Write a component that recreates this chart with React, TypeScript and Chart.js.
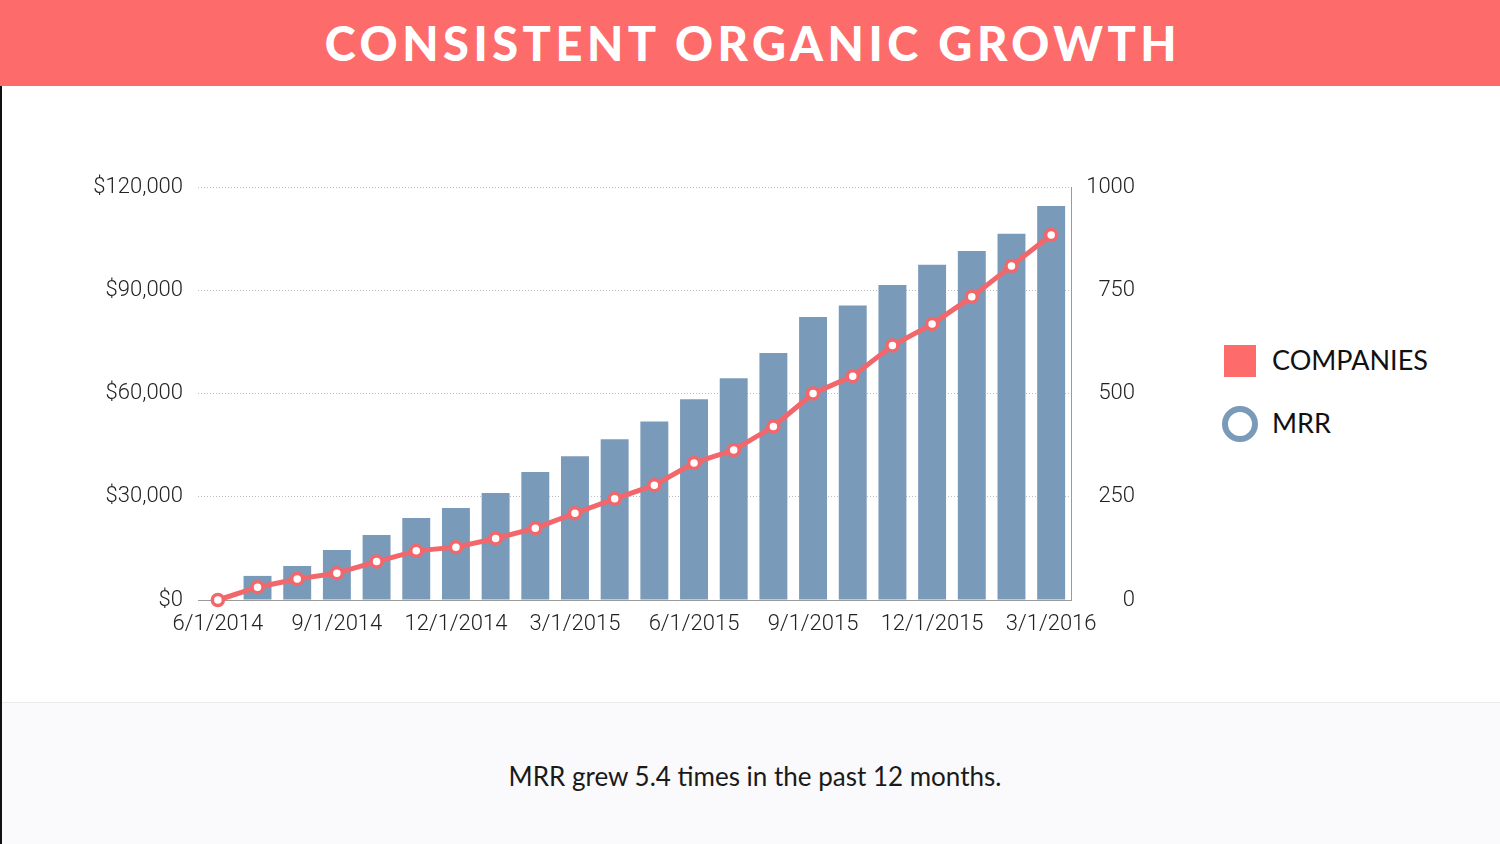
import React, { useEffect, useRef } from 'react';
import { Chart, registerables } from 'chart.js';

Chart.register(...registerables);

const months = [
  '6/1/2014', '7/1/2014', '8/1/2014', '9/1/2014', '10/1/2014', '11/1/2014',
  '12/1/2014', '1/1/2015', '2/1/2015', '3/1/2015', '4/1/2015', '5/1/2015',
  '6/1/2015', '7/1/2015', '8/1/2015', '9/1/2015', '10/1/2015', '11/1/2015',
  '12/1/2015', '1/1/2016', '2/1/2016', '3/1/2016',
];

// monthly recurring revenue in $ (bars, left axis)
const mrr = [
  null, 7000, 9900, 14500, 18900, 23800, 26700, 31100, 37200, 41800, 46700,
  51900, 58300, 64400, 71800, 82200, 85600, 91500, 97400, 101400, 106400, 114500,
];

// number of companies (line, right axis)
const companies = [
  0, 31, 51, 65, 93, 119, 128, 149, 174, 210, 245,
  278, 332, 363, 420, 500, 542, 616, 668, 734, 809, 884,
];

const RED = '#fe6b6b';
const LINE_RED = '#f2676c';
const BAR_BLUE = '#7a9aba';
const TICK_FONT = { family: 'Roboto, "Liberation Sans", sans-serif', size: 22, weight: 300 as any };

const TrendChart: React.FC = () => {
  const canvasRef = useRef<HTMLCanvasElement>(null);
  const chartRef = useRef<Chart | null>(null);

  useEffect(() => {
    document.body.style.margin = '0';
    if (!canvasRef.current) return;
    const ctx = canvasRef.current.getContext('2d');
    if (!ctx) return;

    chartRef.current = new Chart(ctx, {
      type: 'bar',
      data: {
        labels: months,
        datasets: [
          {
            type: 'line',
            label: 'COMPANIES',
            data: companies,
            yAxisID: 'y2',
            borderColor: LINE_RED,
            borderWidth: 5,
            pointRadius: 5.5,
            pointBorderWidth: 3.5,
            pointBackgroundColor: '#ffffff',
            pointBorderColor: LINE_RED,
            tension: 0,
            clip: false as any,
            order: 0,
          },
          {
            type: 'bar',
            label: 'MRR',
            data: mrr,
            yAxisID: 'y',
            backgroundColor: BAR_BLUE,
            categoryPercentage: 0.8,
            barPercentage: 0.88,
            order: 1,
          },
        ],
      },
      options: {
        animation: false,
        responsive: true,
        maintainAspectRatio: false,
        layout: { padding: { top: 101, right: 65, left: 0, bottom: 0 } },
        plugins: {
          legend: { display: false },
          tooltip: { enabled: false },
        },
        scales: {
          x: {
            offset: true,
            grid: { display: false },
            border: { display: true, color: '#9a9a9a', width: 1 },
            ticks: {
              autoSkip: false,
              maxRotation: 0,
              padding: 3,
              color: '#222',
              font: TICK_FONT,
              callback: (_v: any, i: number) => (i % 3 === 0 ? months[i] : ''),
            },
            afterFit: (scale: any) => { scale.height = 86; },
          },
          y: {
            position: 'left',
            min: 0,
            max: 120000,
            grid: { color: '#bdbdbd', drawTicks: false, lineWidth: 1 },
            border: { display: false, dash: [1, 2] },
            ticks: {
              stepSize: 30000,
              padding: 15,
              color: '#222',
              font: TICK_FONT,
              callback: (v: any) => '$' + Number(v).toLocaleString('en-US'),
            },
            afterFit: (scale: any) => { scale.width = 198; },
          },
          y2: {
            position: 'right',
            min: 0,
            max: 1000,
            grid: { drawOnChartArea: false, drawTicks: false },
            border: { display: true, color: '#9a9a9a', width: 1 },
            ticks: {
              stepSize: 250,
              crossAlign: 'far',
              color: '#222',
              font: TICK_FONT,
              callback: (v: any) => String(v),
            },
            afterFit: (scale: any) => { scale.width = 64; },
          },
        },
      },
    });

    return () => {
      if (chartRef.current) {
        chartRef.current.destroy();
        chartRef.current = null;
      }
    };
  }, []);

  return <canvas ref={canvasRef} aria-label="MRR and companies by month"></canvas>;
};

const App: React.FC = () => {
  return (
    <div style={{ position: 'relative', width: 1500, height: 844, background: '#fff', overflow: 'hidden', fontFamily: 'Lato, sans-serif' }}>
      <div
        style={{
          position: 'absolute', left: 0, top: 0, width: 1500, height: 86, background: RED,
          color: '#fff', fontWeight: 900, fontSize: 47, letterSpacing: 4.5, lineHeight: '86px',
          textAlign: 'center', paddingLeft: 6, boxSizing: 'border-box',
        }}
      >
        CONSISTENT ORGANIC GROWTH
      </div>
      <div style={{ position: 'absolute', left: 0, top: 86, width: 2, height: 758, background: '#111' }} />

      <div style={{ position: 'absolute', left: 0, top: 86, width: 1200, height: 600 }}>
        <TrendChart />
      </div>

      {/* legend */}
      <div style={{ position: 'absolute', left: 1224, top: 345, width: 32, height: 32, background: RED }} />
      <div style={{ position: 'absolute', left: 1272, top: 340, fontSize: 27, lineHeight: '40px', color: '#111' }}>COMPANIES</div>
      <div
        style={{
          position: 'absolute', left: 1222, top: 406, width: 36, height: 36, borderRadius: '50%',
          border: `6px solid ${BAR_BLUE}`, boxSizing: 'border-box',
        }}
      />
      <div style={{ position: 'absolute', left: 1272, top: 403, fontSize: 27, lineHeight: '40px', color: '#111' }}>MRR</div>

      <div
        style={{
          position: 'absolute', left: 2, top: 702, width: 1498, height: 142, background: '#faf9fb',
          borderTop: '1px solid #ebebeb', boxSizing: 'border-box',
        }}
      >
        <div style={{ position: 'absolute', left: 0, width: 1506, top: 57, textAlign: 'center', fontSize: 26, lineHeight: '32px', color: '#1a1a1a' }}>
          MRR grew 5.4 times in the past 12 months.
        </div>
      </div>
    </div>
  );
};

export default App;
